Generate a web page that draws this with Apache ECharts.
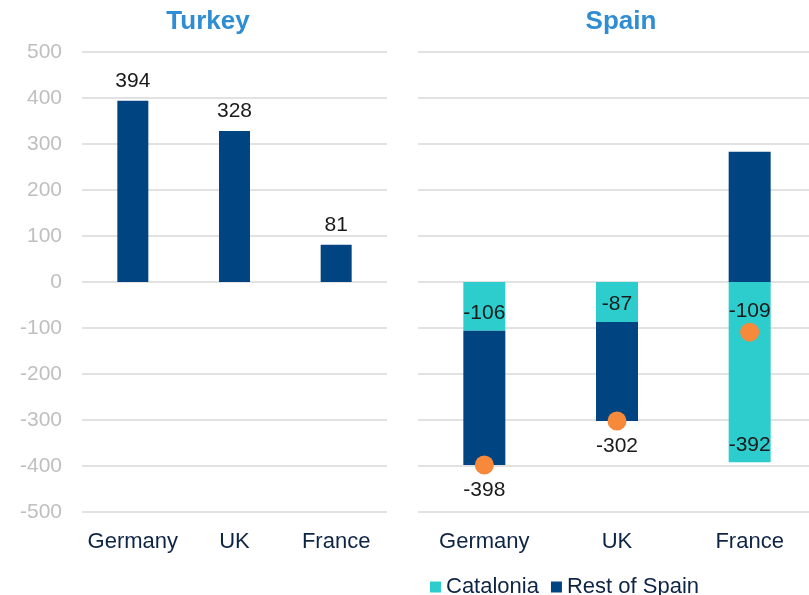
<!DOCTYPE html>
<html>
<head>
<meta charset="utf-8">
<script src="https://cdn.jsdelivr.net/npm/echarts@6/dist/echarts.min.js"></script>
<style>
  html, body { margin: 0; padding: 0; background: #fff; }
  #chart { width: 809px; height: 595px; }
</style>
</head>
<body>
<div id="chart"></div>
<script>
// categories and values
var countries = ['Germany', 'UK', 'France'];
var turkeyValues = [394, 328, 81];
var cataloniaValues = [-106, -87, -392];
var restOfSpainValues = [-292, -215, 283];
var spainTotals = [-398, -302, -109];
var totalLabelPos = ['bottom', 'bottom', 'top'];
var yMin = -500, yMax = 500, yStep = 100;

var navy = '#004481';
var aqua = '#2DCCCD';
var orange = '#F7893B';
var textNavy = '#0E2445';

var chart = echarts.init(document.getElementById('chart'));

var yAxisBase = {
  type: 'value',
  min: yMin,
  max: yMax,
  interval: yStep,
  axisLine: { show: false },
  axisTick: { show: false },
  splitLine: { lineStyle: { color: '#D9D9D9', width: 1.5 } }
};
var xAxisBase = {
  type: 'category',
  data: countries,
  axisLine: { show: false },
  axisTick: { show: false },
  axisLabel: { color: textNavy, fontSize: 22, margin: 19, interval: 0 }
};

chart.setOption({
  animation: false,
  textStyle: { fontFamily: 'Liberation Sans' },
  title: [
    { text: 'Turkey', left: 203, top: 4, textAlign: 'center',
      textStyle: { color: '#2E8DD3', fontSize: 26, fontWeight: 'bold' } },
    { text: 'Spain', left: 616, top: 4, textAlign: 'center',
      textStyle: { color: '#2E8DD3', fontSize: 26, fontWeight: 'bold' } }
  ],
  legend: {
    data: ['Catalonia', 'Rest of Spain'],
    left: 425,
    top: 571,
    itemWidth: 11,
    itemHeight: 11,
    itemGap: 12,
    icon: 'rect',
    textStyle: { color: textNavy, fontSize: 22 }
  },
  grid: [
    { left: 82, top: 52, width: 305, height: 460, outerBoundsMode: 'none' },
    { left: 418, top: 52, width: 398, height: 460, outerBoundsMode: 'none' }
  ],
  xAxis: [
    Object.assign({ gridIndex: 0 }, xAxisBase),
    Object.assign({ gridIndex: 1 }, xAxisBase)
  ],
  yAxis: [
    Object.assign({ gridIndex: 0, axisLabel: { color: '#BFBFBF', fontSize: 21, margin: 20 } }, yAxisBase),
    Object.assign({ gridIndex: 1, axisLabel: { show: false } }, yAxisBase)
  ],
  series: [
    {
      name: 'Turkey',
      type: 'bar',
      xAxisIndex: 0, yAxisIndex: 0,
      data: turkeyValues,
      barWidth: 31,
      itemStyle: { color: navy },
      label: { show: true, position: 'top', distance: 9, color: '#1A1A1A', fontSize: 21 }
    },
    {
      name: 'Catalonia',
      type: 'bar',
      stack: 'spain',
      xAxisIndex: 1, yAxisIndex: 1,
      data: cataloniaValues,
      barWidth: 42,
      itemStyle: { color: aqua },
      label: { show: true, position: 'insideBottom', distance: 7, color: '#1A1A1A', fontSize: 21 }
    },
    {
      name: 'Rest of Spain',
      type: 'bar',
      stack: 'spain',
      xAxisIndex: 1, yAxisIndex: 1,
      data: restOfSpainValues,
      barWidth: 42,
      itemStyle: { color: navy }
    },
    {
      name: 'Total',
      type: 'scatter',
      xAxisIndex: 1, yAxisIndex: 1,
      symbolSize: 19,
      itemStyle: { color: orange, opacity: 1 },
      data: spainTotals.map(function (v, i) {
        return { value: v, label: { position: totalLabelPos[i], distance: i === 2 ? 1 : 5 } };
      }),
      label: { show: true, color: '#1A1A1A', fontSize: 21 },
      z: 5
    }
  ]
});
</script>
</body>
</html>
